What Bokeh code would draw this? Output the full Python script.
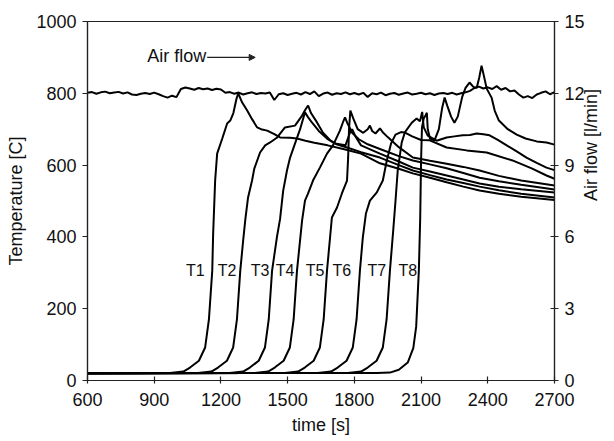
import math
from bokeh.plotting import figure
from bokeh.models import Range1d, LinearAxis, FixedTicker, Arrow, NormalHead, Label
from bokeh.embed import file_html
from bokeh.resources import INLINE
from bokeh.core.properties import value

FONT = "Liberation Sans"

# ---------------- data ----------------
x_ticks = [600, 900, 1200, 1500, 1800, 2100, 2400, 2700]
temp_ticks = [0, 200, 400, 600, 800, 1000]
flow_ticks = [0, 3, 6, 9, 12, 15]

t1_time = [600, 971, 1031, 1061, 1101, 1129, 1146, 1161, 1165, 1174, 1183, 1206, 1228, 1242, 1256, 1270, 1278, 1295, 1318, 1340, 1363, 1385, 1408, 1440, 1466, 1511, 1542, 1580, 1620, 1680, 1750, 1830, 1915, 2000, 2063, 2140, 2215, 2290, 2363, 2450, 2550, 2700]
t1_temp = [20, 21, 25, 36, 55, 92, 170, 306, 409, 557, 632, 674, 716, 724, 745, 785, 800, 775, 752, 728, 705, 699, 696, 686, 677, 676, 674, 668, 662, 655, 645, 632, 605, 590, 577, 565, 552, 540, 529, 520, 512, 503]

t2_time = [600, 1097, 1157, 1187, 1227, 1255, 1272, 1287, 1300, 1310, 1322, 1340, 1350, 1376, 1399, 1421, 1453, 1488, 1533, 1565, 1580, 1592, 1605, 1632, 1659, 1690, 1720, 1767, 1830, 1915, 2000, 2063, 2140, 2215, 2290, 2363, 2450, 2550, 2700]
t2_temp = [20, 21, 25, 36, 55, 92, 170, 306, 390, 450, 510, 557, 590, 635, 655, 663, 677, 705, 710, 738, 755, 766, 745, 719, 690, 670, 658, 649, 636, 621, 600, 585, 572, 560, 550, 540, 530, 520, 510]

t3_time = [600, 1240, 1300, 1330, 1370, 1398, 1415, 1430, 1452, 1466, 1480, 1497, 1511, 1533, 1556, 1570, 1578, 1590, 1610, 1640, 1677, 1713, 1760, 1780, 1790, 1805, 1830, 1915, 2000, 2063, 2140, 2215, 2290, 2363, 2450, 2550, 2700]
t3_temp = [20, 21, 25, 36, 55, 92, 170, 306, 400, 450, 529, 585, 621, 660, 700, 730, 747, 735, 718, 695, 674, 660, 655, 690, 700, 680, 655, 632, 610, 593, 582, 571, 560, 549, 540, 533, 524]

t4_time = [600, 1352, 1412, 1442, 1482, 1510, 1527, 1542, 1565, 1578, 1592, 1614, 1645, 1677, 1704, 1735, 1748, 1758, 1770, 1790, 1820, 1860, 1915, 2000, 2063, 2140, 2215, 2290, 2363, 2450, 2550, 2700]
t4_temp = [20, 21, 25, 36, 55, 92, 170, 306, 446, 501, 521, 557, 593, 632, 655, 696, 718, 733, 715, 690, 672, 658, 645, 625, 613, 602, 591, 578, 565, 555, 545, 532]

t5_time = [600, 1487, 1547, 1577, 1617, 1645, 1662, 1677, 1699, 1722, 1744, 1767, 1772, 1776, 1782, 1795, 1815, 1840, 1860, 1870, 1880, 1895, 1915, 1930, 1950, 2000, 2063, 2140, 2215, 2290, 2363, 2450, 2550, 2700]
t5_temp = [20, 21, 25, 36, 55, 92, 170, 306, 454, 482, 521, 557, 620, 700, 752, 730, 700, 690, 700, 710, 695, 688, 702, 690, 678, 650, 621, 612, 604, 595, 585, 570, 557, 543]

t6_time = [600, 1635, 1695, 1725, 1765, 1793, 1810, 1825, 1838, 1852, 1870, 1901, 1928, 1945, 1965, 1985, 2010, 2030, 2060, 2100, 2139, 2215, 2305, 2395, 2511, 2600, 2664, 2700]
t6_temp = [20, 21, 25, 36, 55, 92, 170, 306, 398, 465, 501, 524, 557, 610, 660, 685, 692, 690, 680, 670, 669, 649, 641, 635, 613, 590, 571, 562]

t7_time = [600, 1770, 1830, 1860, 1900, 1928, 1945, 1960, 1975, 1985, 1995, 2013, 2027, 2058, 2080, 2095, 2105, 2112, 2130, 2170, 2215, 2250, 2287, 2320, 2350, 2380, 2408, 2445, 2485, 2530, 2574, 2620, 2664, 2700]
t7_temp = [20, 21, 25, 36, 55, 92, 170, 306, 420, 500, 585, 663, 691, 718, 730, 722, 748, 705, 682, 668, 677, 680, 683, 684, 688, 686, 683, 670, 655, 638, 621, 606, 593, 586]

t8_time = [600, 1900, 1960, 2000, 2040, 2065, 2078, 2090, 2096, 2100, 2104, 2112, 2120, 2126, 2130, 2140, 2160, 2180, 2195, 2206, 2218, 2235, 2250, 2265, 2285, 2300, 2318, 2335, 2350, 2362, 2372, 2382, 2395, 2417, 2431, 2450, 2490, 2530, 2570, 2620, 2664, 2700]
t8_temp = [20, 21, 22, 30, 50, 90, 150, 306, 450, 613, 705, 730, 738, 746, 700, 674, 668, 700, 760, 788, 765, 735, 718, 735, 790, 815, 830, 818, 815, 845, 877, 850, 813, 788, 752, 724, 700, 685, 674, 666, 663, 657]

flow_time = list(range(600, 2701, 20))
flow_lpm = [12.02, 12.05, 11.98, 12.04, 12.07, 12.00, 12.03, 12.06, 11.99, 12.04,
            11.95, 11.93, 11.98, 12.01, 11.97, 12.03, 11.96,
            11.88, 11.82, 11.90, 11.84,
            12.18, 12.24, 12.20, 12.15, 12.22, 12.17, 12.20, 12.14, 12.19, 12.16,
            12.02, 12.05, 11.98, 12.03, 11.95, 12.00, 12.04, 11.97, 12.01, 11.99,
            12.03, 11.72, 11.96, 12.00, 11.93, 11.98, 12.02, 11.95, 12.05, 11.97,
            12.08, 11.88, 11.99, 12.03, 11.94, 12.00, 11.97, 12.04, 11.96, 12.01,
            11.95, 12.02, 11.85, 12.00, 11.96, 12.03, 11.92, 11.98, 12.01, 11.94,
            11.99, 12.03, 11.95, 11.98, 12.02, 11.96, 12.00, 11.93, 11.99, 12.01,
            11.97, 12.02, 11.95, 12.00, 12.04, 12.10, 12.22, 12.28, 12.20, 12.25,
            12.18, 12.30, 12.15, 12.22, 12.08, 12.12, 11.95, 11.82, 11.88, 11.80,
            11.95, 12.02, 12.08, 11.96, 12.05]

curve_names = ["T1", "T2", "T3", "T4", "T5", "T6", "T7", "T8"]
label_time = [1085, 1228, 1376, 1488, 1623, 1744, 1901, 2040]
label_temp = [306, 306, 306, 306, 306, 306, 306, 306]

curves = [(t1_time, t1_temp), (t2_time, t2_temp), (t3_time, t3_temp), (t4_time, t4_temp),
          (t5_time, t5_temp), (t6_time, t6_temp), (t7_time, t7_temp), (t8_time, t8_temp)]

# ---------------- figure ----------------
p = figure(width=613, height=440, x_range=Range1d(600, 2700), y_range=Range1d(0, 1000),
           output_backend="svg", toolbar_location=None,
           min_border_left=87, min_border_right=58, min_border_top=21, min_border_bottom=60)
p.extra_y_ranges = {"flow": Range1d(0, 15)}
p.xgrid.visible = False
p.ygrid.visible = False
p.outline_line_color = "#222222"
p.outline_line_width = 1.2
p.background_fill_color = "white"
p.border_fill_color = "white"

for tx, ty in curves:
    p.line(tx, ty, line_color="black", line_width=2)

p.line(flow_time, flow_lpm, y_range_name="flow", line_color="black", line_width=2)

p.text(x=label_time, y=label_temp, text=curve_names, text_font=value(FONT),
       text_font_size="16px", text_align="center", text_baseline="middle", text_color="#111111")

p.add_layout(Label(x=869, y=905, text="Air flow", text_font=FONT, text_font_size="18px",
                   text_baseline="alphabetic", text_color="#111111"))
p.add_layout(Arrow(end=NormalHead(size=6, fill_color="#222222", line_color="#222222"),
                   x_start=1138, y_start=900, x_end=1354, y_end=900,
                   line_color="#222222", line_width=1.2))

# axes
xa = p.xaxis[0]
xa.ticker = FixedTicker(ticks=x_ticks)
xa.axis_label = "time [s]"
xa.major_tick_in = 4
xa.major_tick_out = 3
xa.minor_tick_line_color = None
xa.major_label_standoff = 9

ya = p.yaxis[0]
ya.ticker = FixedTicker(ticks=temp_ticks)
ya.axis_label = "Temperature [C]"
ya.major_tick_in = 0
ya.major_tick_out = 5
ya.minor_tick_line_color = None
ya.major_label_standoff = 6

ra = LinearAxis(y_range_name="flow", ticker=FixedTicker(ticks=flow_ticks),
                axis_label="Air flow [l/min]")
ra.major_tick_in = 4
ra.major_tick_out = 4
ra.minor_tick_line_color = None
ra.major_label_standoff = 6
ra.axis_label_orientation = math.pi / 2
p.add_layout(ra, "right")

for ax in (xa, ya, ra):
    ax.axis_line_color = "#222222"
    ax.axis_line_width = 1.2
    ax.major_tick_line_color = "#222222"
    ax.major_tick_line_width = 1.2
    ax.major_label_text_font = FONT
    ax.major_label_text_font_size = "18px"
    ax.major_label_text_color = "#111111"
    ax.axis_label_text_font = FONT
    ax.axis_label_text_font_size = "18px"
    ax.axis_label_text_font_style = "normal"
    ax.axis_label_text_color = "#111111"

xa.axis_label_standoff = 6
ya.axis_label_standoff = 7
ra.axis_label_standoff = 3

open("out.html", "w").write(file_html(p, INLINE))
